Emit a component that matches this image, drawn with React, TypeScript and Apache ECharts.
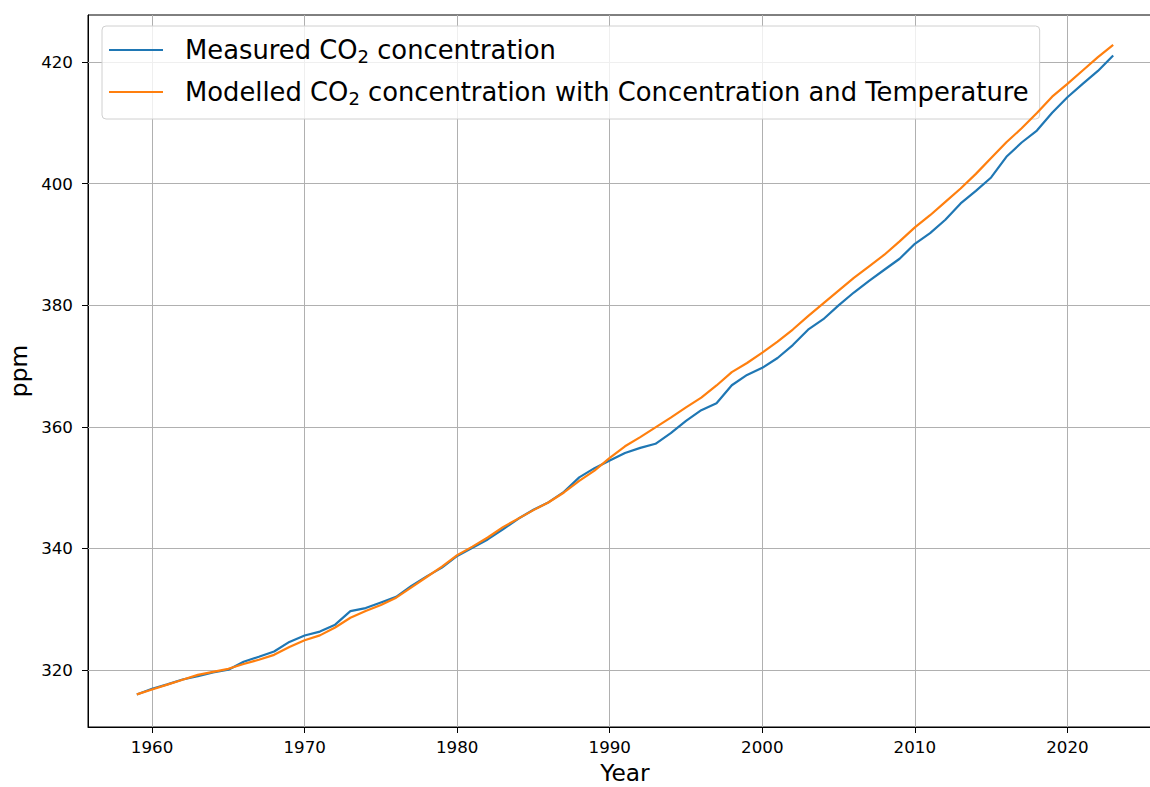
import React, { useEffect, useRef } from "react";
import * as echarts from "echarts";

const years: number[] = [];
for (let y = 1959; y <= 2023; y++) years.push(y);

const measured = [
  315.98, 316.91, 317.64, 318.45, 318.99, 319.62, 320.04, 321.37, 322.18, 323.05,
  324.62, 325.68, 326.32, 327.46, 329.68, 330.19, 331.12, 332.03, 333.84, 335.41,
  336.84, 338.76, 340.12, 341.48, 343.15, 344.87, 346.35, 347.61, 349.31, 351.69,
  353.2, 354.45, 355.7, 356.54, 357.21, 358.96, 360.97, 362.74, 363.88, 366.84,
  368.54, 369.71, 371.32, 373.45, 375.98, 377.7, 379.98, 382.09, 384.02, 385.83,
  387.64, 390.1, 391.85, 394.06, 396.74, 398.81, 401.01, 404.41, 406.76, 408.72,
  411.65, 414.21, 416.41, 418.53, 421.08,
];

const modelled = [
  316.0, 316.8, 317.6, 318.4, 319.2, 319.7, 320.2, 321.0, 321.7, 322.5,
  323.8, 324.9, 325.7, 327.0, 328.6, 329.7, 330.7, 331.9, 333.6, 335.3,
  337.0, 338.9, 340.3, 341.8, 343.5, 344.9, 346.3, 347.6, 349.2, 351.1,
  352.8, 354.9, 356.8, 358.3, 359.9, 361.5, 363.2, 364.8, 366.8, 369.0,
  370.5, 372.2, 374.0, 376.0, 378.2, 380.3, 382.4, 384.5, 386.4, 388.3,
  390.5, 392.8, 394.8, 397.0, 399.2, 401.6, 404.2, 406.8, 409.1, 411.6,
  414.3, 416.4, 418.6, 420.8, 422.8,
];

const xTicks = [1960, 1970, 1980, 1990, 2000, 2010, 2020];
const yTicks = [320, 340, 360, 380, 400, 420];

const seriesNames = ["Measured CO2 concentration", "Modelled CO2 concentration with Concentration and Temperature"];
const legendRich: Record<string, string> = {
  [seriesNames[0]]: "{g| }{a|Measured CO}{s|2}{a| concentration}",
  [seriesNames[1]]: "{g| }{a|Modelled CO}{s|2}{a| concentration with Concentration and Temperature}",
};

const FONT = "DejaVu Sans";
const LFS = 25.8;

export default function App() {
  const ref = useRef<HTMLDivElement>(null);
  useEffect(() => {
    if (!ref.current) return;
    document.documentElement.style.overflow = "hidden";
    document.body.style.overflow = "hidden";
    const chart = echarts.init(ref.current, undefined, { renderer: "svg", width: 1170, height: 787 });
    const axisCommon = {
      axisLine: { show: true, lineStyle: { color: "#000", width: 1 } },
      axisTick: { show: true, inside: false, length: 6, lineStyle: { color: "#000", width: 1 } },
    };
    chart.setOption({
      animation: false,
      backgroundColor: "#fff",
      grid: {
        left: 88,
        top: 15,
        right: 8,
        bottom: 60,
        outerBoundsMode: "none",
        containLabel: false,
        show: true,
        borderColor: "#000",
        borderWidth: 1,
        backgroundColor: "transparent",
      },
      legend: {
        show: true,
        orient: "vertical",
        left: 102,
        top: 26,
        padding: [9, 11, 12, 7],
        itemWidth: 54,
        itemHeight: 2,
        itemGap: 12,
        icon: "rect",
        selectedMode: false,
        backgroundColor: "rgba(255,255,255,0.8)",
        borderColor: "#d0d0d0",
        borderWidth: 1,
        borderRadius: 4,
        formatter: (name: string) => legendRich[name] || name,
        textStyle: {
          fontFamily: FONT,
          fontSize: LFS,
          color: "#000",
          lineHeight: 30,
          rich: {
            g: { width: 17, fontSize: LFS, lineHeight: 30, fontFamily: FONT },
            a: { fontSize: LFS, lineHeight: 30, color: "#000", fontFamily: FONT },
            s: { fontSize: 18, lineHeight: 15, verticalAlign: "bottom", color: "#000", fontFamily: FONT },
          },
        },
        data: seriesNames,
      },
      xAxis: {
        type: "value",
        min: 1955.8,
        max: 2026.2,
        name: "Year",
        nameLocation: "middle",
        nameGap: 34,
        nameTextStyle: { fontFamily: FONT, fontSize: 23.3, color: "#000" },
        ...axisCommon,
        axisTick: { ...axisCommon.axisTick, customValues: xTicks },
        axisLabel: {
          customValues: xTicks,
          formatter: (v: number) => String(v),
          margin: 11,
          fontFamily: FONT,
          fontSize: 16.7,
          color: "#000",
        },
        splitLine: { show: false },
      },
      yAxis: {
        type: "value",
        min: 310.63,
        max: 427.73,
        name: "ppm",
        nameLocation: "middle",
        nameGap: 51,
        nameTextStyle: { fontFamily: FONT, fontSize: 23.3, color: "#000" },
        ...axisCommon,
        axisTick: { ...axisCommon.axisTick, customValues: yTicks },
        axisLabel: {
          customValues: yTicks,
          formatter: (v: number) => String(v),
          margin: 15,
          fontFamily: FONT,
          fontSize: 16.7,
          color: "#000",
        },
        splitLine: { show: false },
      },
      series: [
        {
          name: seriesNames[0],
          type: "line",
          data: years.map((y, i) => [y, measured[i]]),
          showSymbol: false,
          symbol: "none",
          lineStyle: { color: "#1f77b4", width: 2.2 },
          itemStyle: { color: "#1f77b4" },
          z: 3,
          markLine: {
            silent: true,
            symbol: ["none", "none"],
            label: { show: false },
            lineStyle: { color: "#b0b0b0", width: 1, type: "solid" },
            data: [
              ...xTicks.map((v) => ({ xAxis: v })),
              ...yTicks.map((v) => ({ yAxis: v })),
            ],
            z: 1,
          },
        },
        {
          name: seriesNames[1],
          type: "line",
          data: years.map((y, i) => [y, modelled[i]]),
          showSymbol: false,
          symbol: "none",
          lineStyle: { color: "#ff7f0e", width: 2.2 },
          itemStyle: { color: "#ff7f0e" },
          z: 4,
        },
      ],
    });
    return () => chart.dispose();
  }, []);
  return (
    <div style={{ position: "absolute", left: 0, top: 0, width: 1150, height: 787, overflow: "hidden" }}>
      <div ref={ref} style={{ width: 1170, height: 787 }} />
    </div>
  );
}
